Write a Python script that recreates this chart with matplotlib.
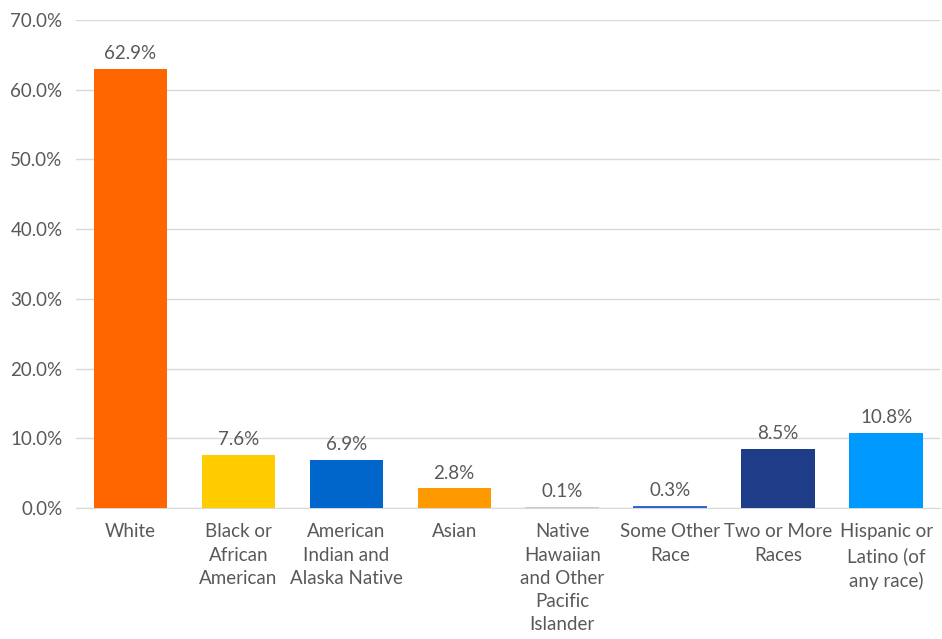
import matplotlib
matplotlib.use("Agg")
import matplotlib.pyplot as plt
from matplotlib.ticker import FuncFormatter, MultipleLocator

categories = ["White", "Black or\nAfrican\nAmerican", "American\nIndian and\nAlaska Native",
              "Asian", "Native\nHawaiian\nand Other\nPacific\nIslander", "Some Other\nRace",
              "Two or More\nRaces", "Hispanic or\nLatino (of\nany race)"]
values = [62.9, 7.6, 6.9, 2.8, 0.1, 0.3, 8.5, 10.8]
colors = ["#FF6600", "#FFCC00", "#0066CC", "#FF9900", "#C9C9C9", "#3366CC", "#1F3C88", "#0099FF"]

plt.rcParams['font.family'] = ['Lato', 'DejaVu Sans']
text_color = "#595959"
fs = 13.5

fig = plt.figure(figsize=(9.42, 6.39), dpi=100)
ax = fig.add_axes([0.081, 0.205, 0.917, 0.764])
x = range(len(categories))
bars = ax.bar(x, values, width=0.68, color=colors, zorder=3)
for xi, v in zip(x, values):
    ax.text(xi, v + 1.0, f"{v:.1f}%", ha="center", va="bottom", fontsize=fs, color=text_color)

ax.set_ylim(0, 70)
ax.set_xlim(-0.5, len(categories) - 0.5)
ax.yaxis.set_major_locator(MultipleLocator(10))
ax.yaxis.set_major_formatter(FuncFormatter(lambda v, p: f"{v:.1f}%"))
ax.grid(axis="y", color="#D9D9D9", linewidth=1, zorder=0)
for s in ["top", "right", "left"]:
    ax.spines[s].set_visible(False)
ax.spines["bottom"].set_color("#D9D9D9")
ax.set_xticks(list(x))
ax.set_xticklabels(categories, fontsize=fs, color=text_color, linespacing=1.45)
ax.tick_params(axis="x", length=0, pad=11)
ax.tick_params(axis="y", length=0, labelsize=fs, labelcolor=text_color, pad=10)

fig.savefig("out.png", dpi=100)
